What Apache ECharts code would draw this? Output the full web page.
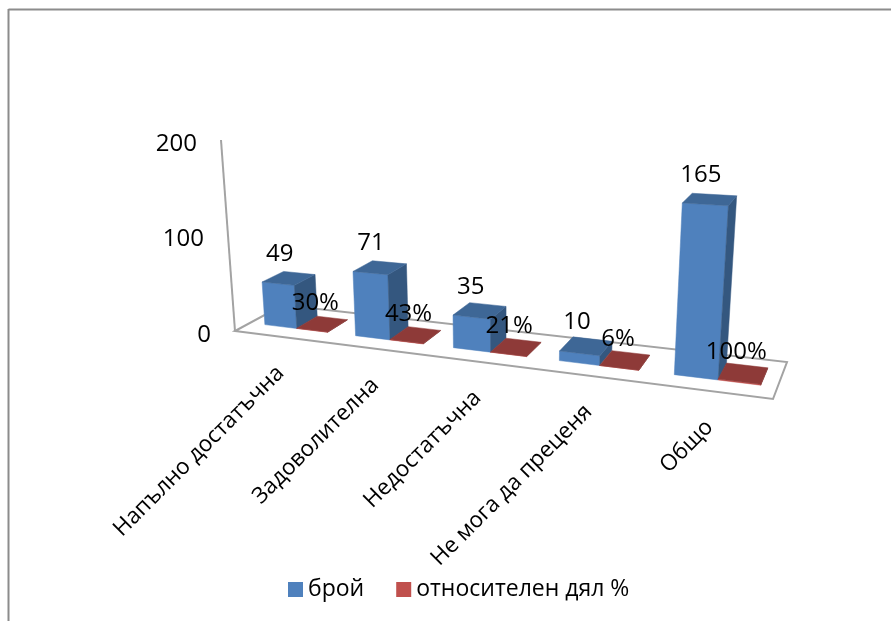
<!DOCTYPE html>
<html>
<head>
<meta charset="utf-8">
<style>html,body{margin:0;padding:0;background:#fff}#c{width:891px;height:621px}</style>
<script src="https://cdn.jsdelivr.net/npm/echarts@6/dist/echarts.min.js"></script>
</head>
<body>
<div id="c"></div>
<script>
const categories = ['Напълно достатъчна', 'Задоволителна', 'Недостатъчна', 'Не мога да преценя', 'Общо'];
const countValues = [49, 71, 35, 10, 165];
const shareValues = [0.30, 0.43, 0.21, 0.06, 1.00];
const valueTicks = [0, 100, 200];
const seriesNames = ['брой', 'относителен дял %'];

const FONT = '"Open Sans", sans-serif';
const AXIS_MAX = 200;
// camera: floor corners on screen and the vertical vanishing point
const F = {p0:[235,331], p1:[773,399], p2:[787,362], p3:[283,305]};
const VP = [505, 4013], K = -2.466e-4;
const BAR_DEPTH_SCALE = 0.96;
const cam = (function () {
  const [x0,y0]=F.p0,[x1,y1]=F.p1,[x2,y2]=F.p2,[x3,y3]=F.p3;
  const dx1=x1-x2,dx2=x3-x2,sx=x0-x1+x2-x3,dy1=y1-y2,dy2=y3-y2,sy=y0-y1+y2-y3;
  const den=dx1*dy2-dx2*dy1, g=(sx*dy2-dx2*sy)/den, h=(dx1*sy-sx*dy1)/den;
  return {a:x1-x0+g*x1,b:x3-x0+h*x3,c:x0,d:y1-y0+g*y1,e:y3-y0+h*y3,f:y0,g,h};
})();
function project(u, v, z) {
  const s = u / categories.length;
  const w = cam.g*s + cam.h*v + 1 + K*z;
  return [(cam.a*s + cam.b*v + cam.c + K*VP[0]*z)/w, (cam.d*s + cam.e*v + cam.f + K*VP[1]*z)/w];
}
// read a datum back through the library's scales
function toScene(api, params, i, val) {
  const pt = api.coord([i, val]);
  const cs = params.coordSys;
  const band = cs.width / categories.length;
  return {u: (pt[0]-cs.x)/band, z: (cs.y+cs.height-pt[1])/cs.height*AXIS_MAX};
}
const V0 = 0.30, V1 = 0.75;
function quad(points, fill) {
  return {type:'polygon', shape:{points}, style:{fill, stroke:fill, lineWidth:0.5}};
}
function barRenderer(u0, u1, cFront, cSide, cTop, fmt, dx, dy) {
  return function (params, api) {
    const i = api.value(0), val = api.value(1);
    const s = toScene(api, params, i, val);
    const a = s.u + u0, b = s.u + u1, z = s.z * BAR_DEPTH_SCALE;
    const fbl=project(a,V0,0), fbr=project(b,V0,0), bbr=project(b,V1,0);
    const ftl=project(a,V0,z), ftr=project(b,V0,z), btr=project(b,V1,z), btl=project(a,V1,z);
    const c = project((a+b)/2,(V0+V1)/2,z);
    return {type:'group', children:[
      quad([fbl,fbr,ftr,ftl], cFront),
      quad([fbr,bbr,btr,ftr], cSide),
      quad([ftl,ftr,btr,btl], cTop),
      {type:'text', z2:50, style:{x:c[0]+dx, y:c[1]+dy, text:fmt(val), fill:'#000',
        font:'24px '+FONT, align:'center', verticalAlign:'middle'}}
    ]};
  };
}
function sceneRenderer(params, api) {
  const cs = params.coordSys;
  const topZ = (cs.y+cs.height-api.coord([0,AXIS_MAX])[1])/cs.height*AXIS_MAX;
  const n = categories.length;
  const kids = [
    {type:'polygon', shape:{points:[project(0,0,0),project(n,0,0),project(n,1,0),project(0,1,0)]},
      style:{fill:'#fff', stroke:'#A3A3A3', lineWidth:2}},
    {type:'line', shape:{x1:project(0,0,0)[0],y1:project(0,0,0)[1],x2:project(0,0,topZ)[0],y2:project(0,0,topZ)[1]},
      style:{stroke:'#A3A3A3', lineWidth:2}}
  ];
  categories.forEach(function (name, i) {
    const p = project(i+0.5, 0, 0);
    kids.push({type:'text', rotation:Math.PI/4, x:p[0]+1, y:p[1]+33, style:{x:0, y:0, text:name, fill:'#000',
      font:'22.4px '+FONT, align:'right', verticalAlign:'middle'}});
  });
  return {type:'group', children:kids};
}
const chart = echarts.init(document.getElementById('c'), null, {renderer:'canvas'});
const tickPad = {0:0, 100:7, 200:14};
chart.setOption({
  animation:false,
  backgroundColor:'#fff',
  grid:{left:219, top:144, width:568, height:191},
  xAxis:{type:'category', data:categories, show:false},
  yAxis:{type:'value', min:valueTicks[0], max:valueTicks[2], interval:100, splitLine:{show:false},
    axisLine:{show:false}, axisTick:{show:false},
    axisLabel:{margin:8, color:'#000', fontFamily:'Open Sans', fontSize:24,
      formatter:function (v) { return '{t'+v+'|'+v+'}'; },
      rich:{t0:{padding:[0,tickPad[0],0,0]}, t100:{padding:[0,tickPad[100],0,0]}, t200:{padding:[0,tickPad[200],0,0]}}}},
  legend:{data:seriesNames, left:283, top:573, icon:'rect', itemWidth:15, itemHeight:15, itemGap:32,
    textStyle:{fontFamily:'Open Sans', fontSize:23, color:'#000'}},
  graphic:[
    {type:'line', silent:true, shape:{x1:8.5,y1:9.5,x2:891,y2:9.5}, style:{stroke:'#8C8C8C', lineWidth:2}},
    {type:'line', silent:true, shape:{x1:8.5,y1:9,x2:8.5,y2:621}, style:{stroke:'#8C8C8C', lineWidth:2}}
  ],
  series:[
    {type:'custom', name:'scene', silent:true, z:1, data:[[0,0]], encode:{x:0,y:1}, renderItem:sceneRenderer, clip:false},
    {type:'custom', name:seriesNames[0], z:3, itemStyle:{color:'#4F81BD'}, clip:false, encode:{x:0,y:1},
      data:countValues.map(function (v,i){return [i,v];}),
      renderItem:barRenderer(-0.33, 0.03, '#4F81BD', '#34577F', '#3E6796', function (v){return String(v);}, -9, -24)},
    {type:'custom', name:seriesNames[1], z:4, itemStyle:{color:'#C0504D'}, clip:false, encode:{x:0,y:1},
      data:shareValues.map(function (v,i){return [i,v];}),
      renderItem:barRenderer(0.03, 0.37, '#C0504D', '#7F3735', '#8E3A38', function (v){return Math.round(v*100)+'%';}, -7, -21)}
  ]
});
</script>
</body>
</html>
